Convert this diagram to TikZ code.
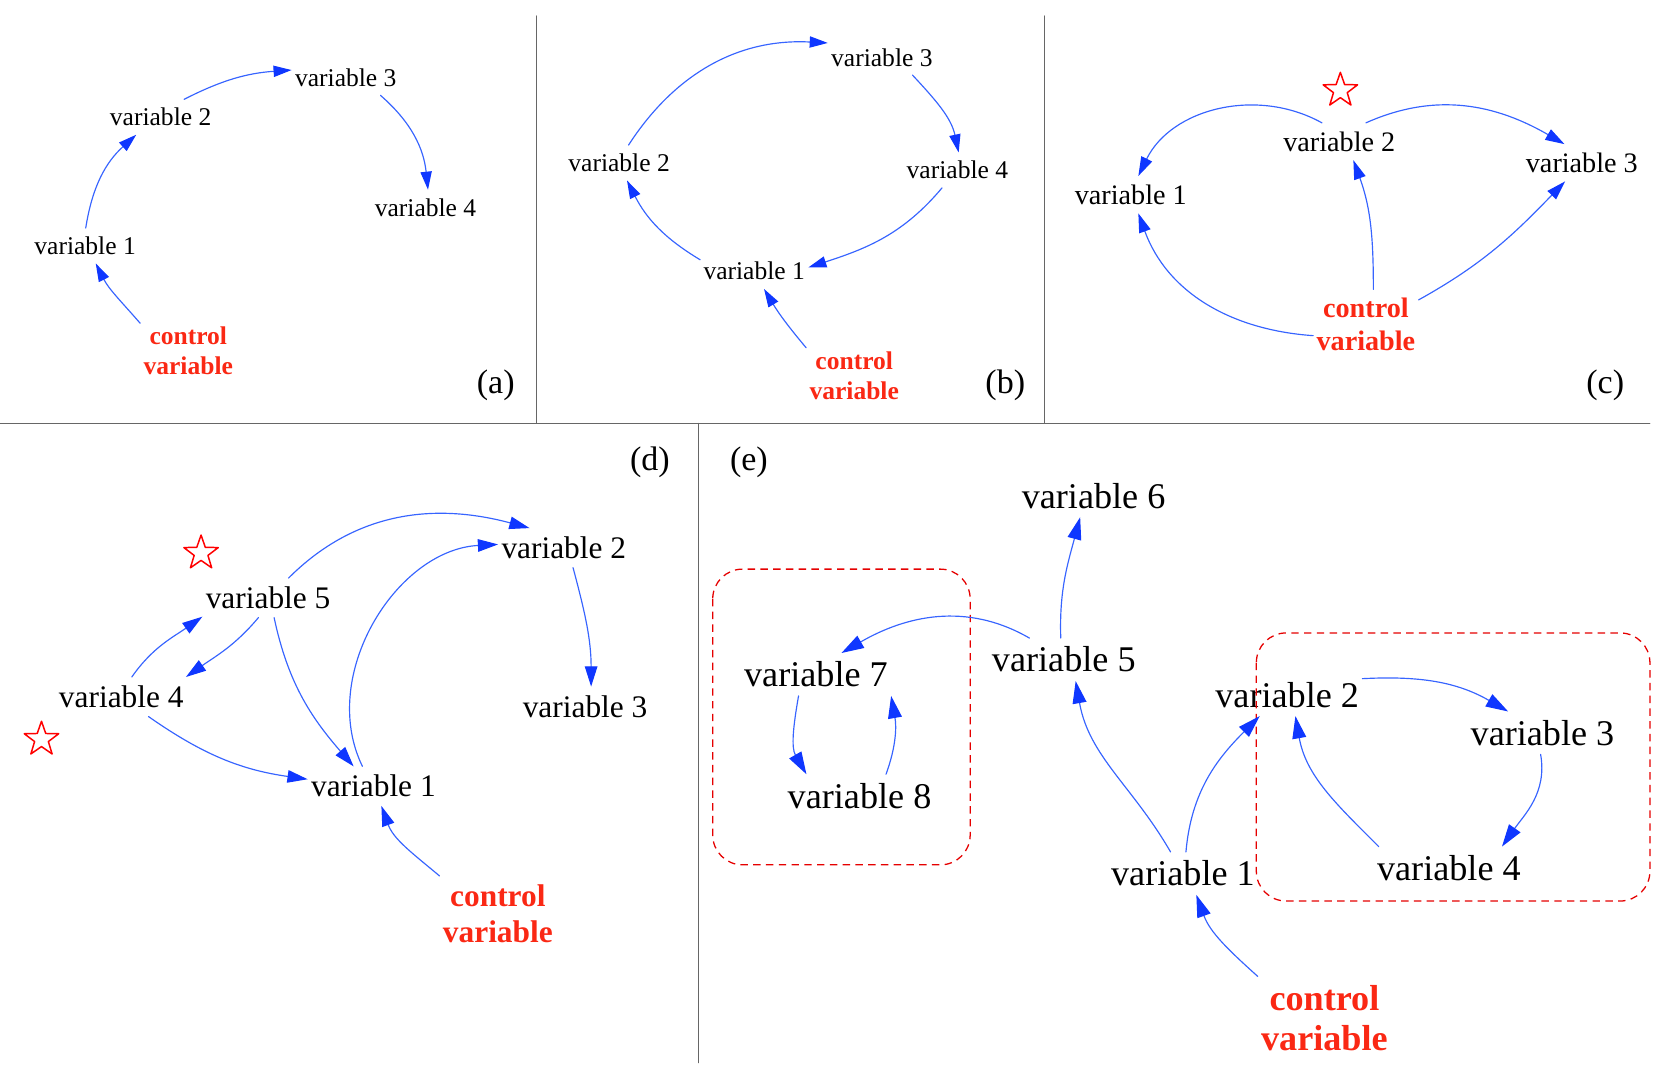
\documentclass[tikz,border=0pt]{standalone}
\usepackage{fontspec}
\setmainfont{Liberation Serif}
\usetikzlibrary{arrows.meta,shapes.geometric}
\definecolor{linkblue}{RGB}{55,100,255}
\definecolor{tipblue}{RGB}{15,55,255}
\definecolor{ctlred}{RGB}{250,40,20}
\begin{document}
\begin{tikzpicture}[x=1pt, y=1pt, line join=round, line cap=round,
	var/.style={inner xsep=3pt, inner ysep=8pt},
	ctl/.style={var, align=center, text=ctlred},
	link/.style={draw=linkblue, line width=1.1pt, -{Triangle[length=#1pt, width'=0pt .62, color=tipblue]}},
	link/.default=17,
	hot/.style={star, star points=5, star point ratio=2.5, draw=red, line width=1.4pt, minimum size=34pt, inner sep=0pt},
	group/.style={draw=red!90!black, line width=1.2pt, line cap=butt, dash pattern=on 7pt off 5pt, rounded corners=28pt},
	sep/.style={draw=black!60, line width=1pt},
	tag/.style={font=\fontsize{32}{36}\selectfont}]
	\useasboundingbox (0,0) rectangle (1568,-1014);
	% panel frames
	\draw[sep] (504.6,-15)--(504.6,-398);
	\draw[sep] (982,-15)--(982,-398);
	\draw[sep] (0,-398)--(1551,-398);
	\draw[sep] (657,-398)--(657,-999);
	\foreach \t/\x/\y in {a/466/362, b/945/362, c/1509/362, d/611/435, e/704/435}
		\node[tag] (tag\t) at (\x,-\y) {(\t)};
	% (a)
	\begin{scope}[font=\fontsize{24}{28}\selectfont]
		\node[var] (a1) at (80,-231) {variable 1};
		\node[var] (a2) at (151,-110) {variable 2};
		\node[var] (a3) at (325,-73) {variable 3};
		\node[var] (a4) at (400,-195) {variable 4};
		\node[ctl] (actl) at (177,-330) {\textbf{control}\\\textbf{variable}};
		\draw[link] (actl.150) to[out=131,in=-63] (a1.-59);
		\draw[link] (a1.88) to[out=81,in=222] (a2.-144);
		\draw[link] (a2.37) to[out=27,in=184] (a3.172);
		\draw[link] (a3.-27) to[out=-41,in=96] (a4.82);
	\end{scope}
	% (b)
	\begin{scope}[font=\fontsize{24}{28}\selectfont]
		\node[var] (b1) at (709,-255) {variable 1};
		\node[var] (b2) at (582,-153) {variable 2};
		\node[var] (b3) at (829,-54) {variable 3};
		\node[var] (b4) at (900,-160) {variable 4};
		\node[ctl] (bctl) at (803,-353) {\textbf{control}\\\textbf{variable}};
		\draw[link] (bctl.150) to[out=130,in=-59] (b1.-61);
		\draw[link] (b1.168) to[out=149,in=-63] (b2.-66);
		\draw[link] (b2.62) to[out=57,in=177] (b3.165);
		\draw[link] (b3.-30) to[out=-47,in=102] (b4.86);
		\draw[link] (b4.-131) to[out=230,in=18] (b1.4);
	\end{scope}
	% (c)
	\begin{scope}[font=\fontsize{26.5}{31}\selectfont]
		\node[var] (c1) at (1063,-183) {variable 1};
		\node[var] (c2) at (1259,-133) {variable 2};
		\node[var] (c3) at (1487,-153) {variable 3};
		\node[ctl] (cctl) at (1284,-305) {\textbf{control}\\\textbf{variable}};
		\node[hot] (cstar) at (1260,-85) {};
		\draw[link=18] (c2.133) to[out=151,in=64] (c1.68);
		\draw[link=18] (c2.35) to[out=24,in=150] (c3.133);
		\draw[link=18] (cctl.192) to[out=176,in=-70] (c1.-68);
		\draw[link=18] (cctl.78) to[out=90,in=-70] (c2.-53);
		\draw[link=18] (cctl.25) to[out=29,in=226] (c3.-132);
	\end{scope}
	% (d)
	\begin{scope}[font=\fontsize{29.5}{34}\selectfont]
		\node[var] (d1) at (351,-739) {variable 1};
		\node[var] (d2) at (530,-515) {variable 2};
		\node[var] (d3) at (550,-664) {variable 3};
		\node[var] (d4) at (114,-655) {variable 4};
		\node[var] (d5) at (252,-562) {variable 5};
		\node[ctl] (dctl) at (468,-859) {\textbf{control}\\\textbf{variable}};
		\node[hot] (dstar1) at (189,-520) {};
		\node[hot] (dstar2) at (39,-695) {};
		\draw[link=19] (d5.44) to[out=45,in=165] (d2.150);
		\draw[link=19] (d1.119) to[out=116,in=183] (d2.177);
		\draw[link=19] (d2.-65) to[out=-75,in=90] (d3.73);
		\draw[link=19] (d5.-73) to[out=-78,in=131] (d1.135);
		\draw[link=19] (d4.62) to[out=55,in=215] (d5.-164);
		\draw[link=19] (d5.-116) to[out=-130,in=35] (d4.17);
		\draw[link=19] (d4.-36) to[out=-35,in=172] (d1.174);
		\draw[link=19] (dctl.north west) to[out=140,in=-70] (d1.-68);
	\end{scope}
	% (e)
	\begin{scope}[font=\fontsize{34}{38}\selectfont]
		\node[var] (e1) at (1112,-821) {variable 1};
		\node[var] (e2) at (1210,-653) {variable 2};
		\node[var] (e3) at (1450,-689) {variable 3};
		\node[var] (e4) at (1362,-816) {variable 4};
		\node[var] (e5) at (1000,-620) {variable 5};
		\node[var] (e6) at (1028,-466) {variable 6};
		\node[var] (e7) at (767,-634) {variable 7};
		\node[var] (e8) at (808,-748) {variable 8};
		\node[ctl] (ectl) at (1245,-957) {\textbf{control}\\\textbf{variable}};
		\draw[group] (670,-535) rectangle (912,-813);
		\draw[group] (1181,-595) rectangle (1551,-847);
		\draw[link=21] (e5.98) to[out=92,in=255] (e6.-122);
		\draw[link=21] (e5.148) to[out=150,in=30] (e7.40);
		\draw[link=21] (e7.-129) to[out=-100,in=120] (e8.158);
		\draw[link=21] (e8.39) to[out=70,in=-80] (e7.south east);
		\draw[link=21] (e1.120) to[out=120,in=-80] (e5.-61);
		\draw[link=21] (e1.82) to[out=85,in=225] (e2.-142);
		\draw[link=21] (e2.12) to[out=3,in=150] (e3.148);
		\draw[link=21] (e3.-95) to[out=-80,in=55] (e4.22);
		\draw[link=21] (e4.163) to[out=135,in=-80] (e2.-69);
		\draw[link=21] (ectl.north west) to[out=138,in=-70] (e1.-58);
	\end{scope}
\end{tikzpicture}
\end{document}
